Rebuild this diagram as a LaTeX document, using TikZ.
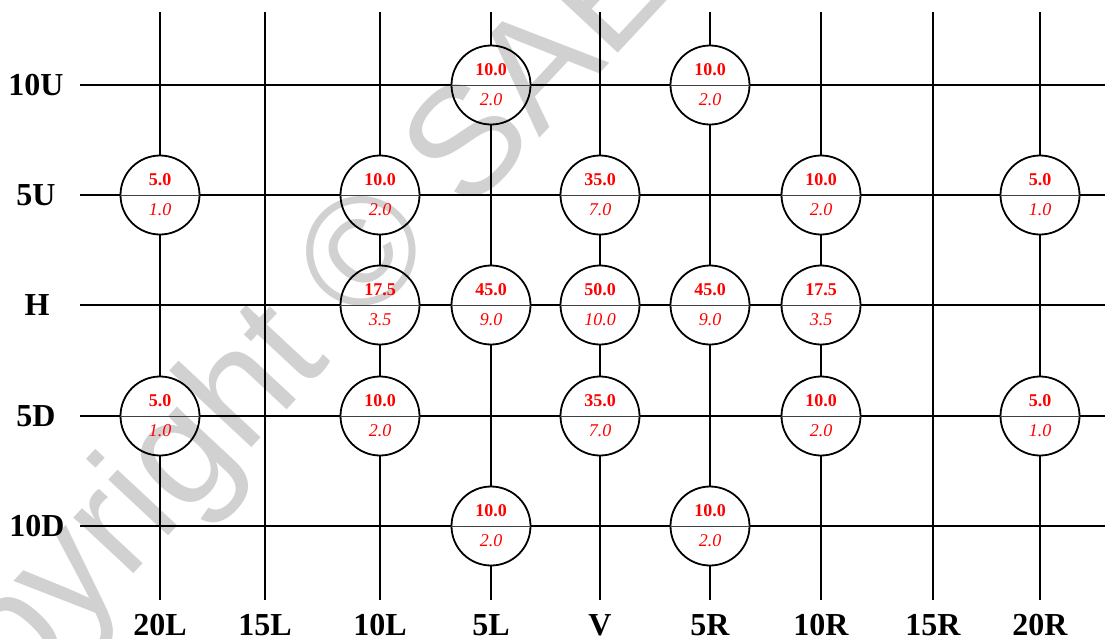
\documentclass[tikz,border=0pt]{standalone}
\usepackage{fontspec}
\setmainfont{Liberation Serif}
\newfontfamily\wmfont{Liberation Sans}
\tikzset{
  gridline/.style={line width=2pt, black},
  circ/.style={circle, draw, line width=1.8pt, minimum size=79pt, inner sep=0pt},
  divider/.style={line width=0.8pt, black!75},
  topnum/.style={text=red, font=\fontsize{18}{18}\selectfont\bfseries, inner sep=0pt},
  botnum/.style={text=red, font=\fontsize{18}{18}\selectfont\itshape, inner sep=0pt},
  axlab/.style={font=\fontsize{32}{32}\selectfont\bfseries, inner sep=0pt},
  wm/.style={text=black!18, font=\wmfont\fontsize{155}{155}\selectfont, rotate=47, inner sep=0pt},
}
% \cellnode{name}{x}{y}{top}{bottom}
\newcommand\cellnode[5]{%
  \node[circ] (#1) at (#2,#3) {};
  \draw[divider] (#1.west) -- (#1.east);
  \node[topnum] (#1t) at (#2,#3-15.5) {#4};
  \node[botnum] (#1b) at (#2,#3+14.5) {#5};
}
\begin{document}
\begin{tikzpicture}[x=1pt,y=-1pt]
\useasboundingbox (0,0) rectangle (1105,638);
% watermark
\node[wm] (wm) at (251,389) {Copyright © SAE};
% circles
\cellnode{a5L}{491}{85}{10.0}{2.0}
\cellnode{a5R}{710}{85}{10.0}{2.0}
\cellnode{b20L}{160}{195}{5.0}{1.0}
\cellnode{b10L}{380}{195}{10.0}{2.0}
\cellnode{bV}{600}{195}{35.0}{7.0}
\cellnode{b10R}{821}{195}{10.0}{2.0}
\cellnode{b20R}{1040}{195}{5.0}{1.0}
\cellnode{c10L}{380}{305}{17.5}{3.5}
\cellnode{c5L}{491}{305}{45.0}{9.0}
\cellnode{cV}{600}{305}{50.0}{10.0}
\cellnode{c5R}{710}{305}{45.0}{9.0}
\cellnode{c10R}{821}{305}{17.5}{3.5}
\cellnode{d20L}{160}{416}{5.0}{1.0}
\cellnode{d10L}{380}{416}{10.0}{2.0}
\cellnode{dV}{600}{416}{35.0}{7.0}
\cellnode{d10R}{821}{416}{10.0}{2.0}
\cellnode{d20R}{1040}{416}{5.0}{1.0}
\cellnode{e5L}{491}{526}{10.0}{2.0}
\cellnode{e5R}{710}{526}{10.0}{2.0}
% end coordinates of rows
\coordinate (aL) at (80,85);   \coordinate (aR) at (1105,85);
\coordinate (bL) at (80,195);  \coordinate (bR) at (1105,195);
\coordinate (cL) at (80,305);  \coordinate (cR) at (1105,305);
\coordinate (dL) at (80,416);  \coordinate (dR) at (1105,416);
\coordinate (eL) at (80,526);  \coordinate (eR) at (1105,526);
% end coordinates of columns
\coordinate (t20L) at (160,12); \coordinate (u20L) at (160,600);
\coordinate (t15L) at (265,12); \coordinate (u15L) at (265,600);
\coordinate (t10L) at (380,12); \coordinate (u10L) at (380,600);
\coordinate (t5L) at (491,12);  \coordinate (u5L) at (491,600);
\coordinate (tV) at (600,12);   \coordinate (uV) at (600,600);
\coordinate (t5R) at (710,12);  \coordinate (u5R) at (710,600);
\coordinate (t10R) at (821,12); \coordinate (u10R) at (821,600);
\coordinate (t15R) at (933,12); \coordinate (u15R) at (933,600);
\coordinate (t20R) at (1040,12); \coordinate (u20R) at (1040,600);
% rows
\draw[gridline] (aL) -- (a5L) (a5L) -- (a5R) (a5R) -- (aR);
\draw[gridline] (bL) -- (b20L) (b20L) -- (b10L) (b10L) -- (bV) (bV) -- (b10R) (b10R) -- (b20R) (b20R) -- (bR);
\draw[gridline] (cL) -- (c10L) (c10L) -- (c5L) (c5L) -- (cV) (cV) -- (c5R) (c5R) -- (c10R) (c10R) -- (cR);
\draw[gridline] (dL) -- (d20L) (d20L) -- (d10L) (d10L) -- (dV) (dV) -- (d10R) (d10R) -- (d20R) (d20R) -- (dR);
\draw[gridline] (eL) -- (e5L) (e5L) -- (e5R) (e5R) -- (eR);
% columns
\draw[gridline] (t20L) -- (b20L) (b20L) -- (d20L) (d20L) -- (u20L);
\draw[gridline] (t15L) -- (u15L);
\draw[gridline] (t10L) -- (b10L) (b10L) -- (c10L) (c10L) -- (d10L) (d10L) -- (u10L);
\draw[gridline] (t5L) -- (a5L) (a5L) -- (c5L) (c5L) -- (e5L) (e5L) -- (u5L);
\draw[gridline] (tV) -- (bV) (bV) -- (cV) (cV) -- (dV) (dV) -- (uV);
\draw[gridline] (t5R) -- (a5R) (a5R) -- (c5R) (c5R) -- (e5R) (e5R) -- (u5R);
\draw[gridline] (t10R) -- (b10R) (b10R) -- (c10R) (c10R) -- (d10R) (d10R) -- (u10R);
\draw[gridline] (t15R) -- (u15R);
\draw[gridline] (t20R) -- (b20R) (b20R) -- (d20R) (d20R) -- (u20R);
% row labels
\node[axlab] (l10U) at (36,85) {10U};
\node[axlab] (l5U) at (36,195) {5U};
\node[axlab] (lH) at (37,305) {H};
\node[axlab] (l5D) at (36,416) {5D};
\node[axlab] (l10D) at (37,526) {10D};
% column labels
\node[axlab, anchor=base] (k20L) at (160,635) {20L};
\node[axlab, anchor=base] (k15L) at (265,635) {15L};
\node[axlab, anchor=base] (k10L) at (380,635) {10L};
\node[axlab, anchor=base] (k5L) at (491,635) {5L};
\node[axlab, anchor=base] (kV) at (600,635) {V};
\node[axlab, anchor=base] (k5R) at (710,635) {5R};
\node[axlab, anchor=base] (k10R) at (821,635) {10R};
\node[axlab, anchor=base] (k15R) at (933,635) {15R};
\node[axlab, anchor=base] (k20R) at (1040,635) {20R};
\end{tikzpicture}
\end{document}
